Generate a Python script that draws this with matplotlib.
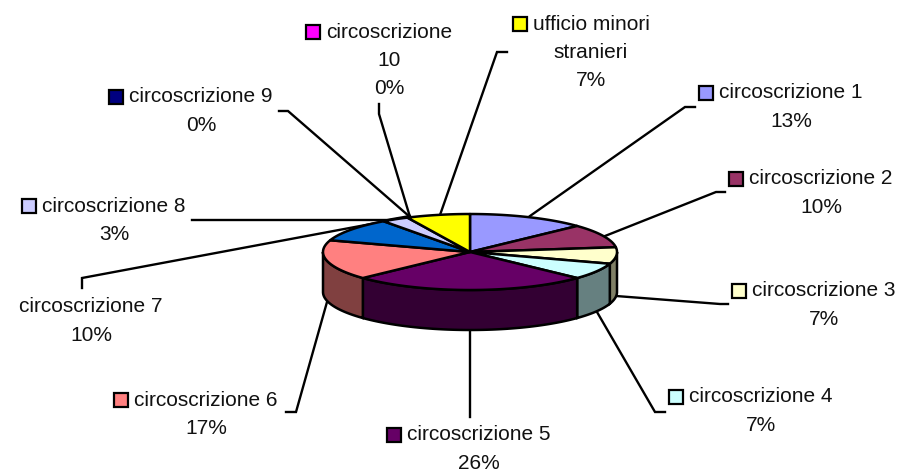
import numpy as np
import matplotlib
matplotlib.use('Agg')
import matplotlib.pyplot as plt
from matplotlib.patches import Polygon, Rectangle

plt.rcParams['font.family'] = ['Liberation Sans', 'DejaVu Sans']

names = ['circoscrizione 1', 'circoscrizione 2', 'circoscrizione 3', 'circoscrizione 4',
         'circoscrizione 5', 'circoscrizione 6', 'circoscrizione 7', 'circoscrizione 8',
         'circoscrizione 9', 'circoscrizione\n10', 'ufficio minori\nstranieri']
shares = [13, 10, 7, 7, 26, 17, 10, 3, 0, 0, 7]
colors = ['#9999FF', '#993366', '#FFFFCC', '#CCFFFF', '#660066', '#FF8080',
          '#0066CC', '#CCCCFF', '#000080', '#FF00FF', '#FFFF00']

# label layout in pixels: centre x of the text, y of the first line
label_pos = [(791, 93), (821, 179), (824, 291), (761, 397), (479, 435),
             (206, 400), (91, 307), (114, 206), (201, 97), (389, 32), (591, 24)]
has_key = [True, True, True, True, True, True, False, True, True, True, True]

# leader lines in pixels
leaders = [[(530, 216), (685, 107), (695, 107)],
           [(605, 236), (716, 192), (725, 192)],
           [(616, 296), (720, 304), (728, 304)],
           [(597, 312), (655, 412), (665, 412)],
           [(470, 330), (470, 417)],
           [(327, 302), (296, 412), (286, 412)],
           [(387, 221), (82, 278), (82, 288)],
           [(192, 220), (387, 220), (410, 216)],
           [(279, 111), (288, 111), (410, 217)],
           [(379, 104), (379, 114), (410, 217)],
           [(507, 52), (497, 52), (440, 215)]]

cx, cy, rx, ry, depth = 470, 252, 147, 38, 40
edge_lw = 1.8


def rim(t):
    # t is clockwise from 12 o'clock, in degrees
    t = np.radians(t)
    return cx + rx * np.sin(t), cy - ry * np.cos(t)


def shade(c):
    return tuple(v * 0.5 for v in matplotlib.colors.to_rgb(c))


fig = plt.figure(figsize=(8.99, 4.72), dpi=100)
ax = fig.add_axes([0, 0, 1, 1])
ax.set_xlim(0, 899)
ax.set_ylim(472, 0)
ax.axis('off')

for pts in leaders:
    xs, ys = zip(*pts)
    ax.plot(xs, ys, color='black', lw=1.7, zorder=1, solid_joinstyle='miter')

edges = np.cumsum([0] + shares) * 3.6

# side walls, only the part of each slice that faces the viewer
for i, c in enumerate(colors):
    a, b = max(edges[i], 90), min(edges[i + 1], 270)
    if b <= a:
        continue
    t = np.linspace(a, b, 80)
    x, y = rim(t)
    pts = list(zip(x, y)) + list(zip(x[::-1], y[::-1] + depth))
    ax.add_patch(Polygon(pts, closed=True, fc=shade(c), ec='black', lw=edge_lw, zorder=2))

# top face
for i, c in enumerate(colors):
    if shares[i] == 0:
        continue
    t = np.linspace(edges[i], edges[i + 1], 80)
    x, y = rim(t)
    pts = [(cx, cy)] + list(zip(x, y))
    ax.add_patch(Polygon(pts, closed=True, fc=c, ec='black', lw=edge_lw, zorder=3,
                         joinstyle='round'))

# labels
line_h = 28.5
fsize = 15
for name, share, c, (lx, ly), key in zip(names, shares, colors, label_pos, has_key):
    lines = name.split('\n') + [f'{share}%']
    for j, s in enumerate(lines):
        t = ax.text(lx, ly + j * line_h, s, ha='center', va='center', fontsize=fsize,
                    color='#111111', zorder=5)
        if j == 0 and key:
            fig.canvas.draw()
            bb = t.get_window_extent()
            ax.add_patch(Rectangle((bb.x0 - 20, ly - 7.5), 14, 14, fc=c, ec='black', lw=1.6, zorder=5))

fig.savefig('out.png', dpi=100)
